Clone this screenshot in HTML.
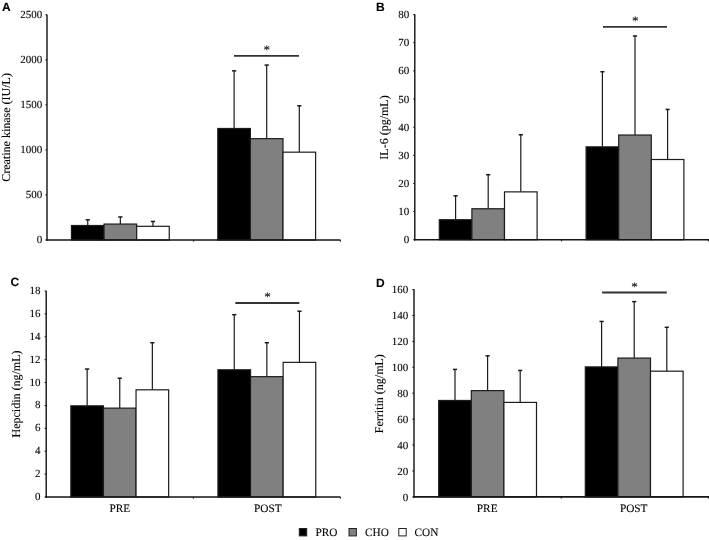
<!DOCTYPE html>
<html><head><meta charset="utf-8"><title>Figure</title>
<style>html,body{margin:0;padding:0;background:#fff;}svg{display:block;}text{text-rendering:geometricPrecision;stroke:#000;stroke-width:0.1px;}</style></head>
<body>
<svg width="709" height="540" viewBox="0 0 709 540">
<rect width="709" height="540" fill="#fff"/>
<text x="1.9" y="10.8" font-family='"Liberation Sans", "DejaVu Sans", sans-serif' font-weight="bold" font-size="12">A</text>
<text transform="translate(10.2,127.4) rotate(-90)" text-anchor="middle" font-family='"Liberation Serif", "DejaVu Serif", serif' font-size="12">Creatine kinase (IU/L)</text>
<line x1="45.4" y1="240.00" x2="47.0" y2="240.00" stroke="#111" stroke-width="1"/>
<text x="42.2" y="243.30" text-anchor="end" font-family='"Liberation Serif", "DejaVu Serif", serif' font-size="11">0</text>
<line x1="45.4" y1="194.96" x2="47.0" y2="194.96" stroke="#111" stroke-width="1"/>
<text x="42.2" y="198.26" text-anchor="end" font-family='"Liberation Serif", "DejaVu Serif", serif' font-size="11">500</text>
<line x1="45.4" y1="149.92" x2="47.0" y2="149.92" stroke="#111" stroke-width="1"/>
<text x="42.2" y="153.22" text-anchor="end" font-family='"Liberation Serif", "DejaVu Serif", serif' font-size="11">1000</text>
<line x1="45.4" y1="104.88" x2="47.0" y2="104.88" stroke="#111" stroke-width="1"/>
<text x="42.2" y="108.18" text-anchor="end" font-family='"Liberation Serif", "DejaVu Serif", serif' font-size="11">1500</text>
<line x1="45.4" y1="59.84" x2="47.0" y2="59.84" stroke="#111" stroke-width="1"/>
<text x="42.2" y="63.14" text-anchor="end" font-family='"Liberation Serif", "DejaVu Serif", serif' font-size="11">2000</text>
<line x1="45.4" y1="14.80" x2="47.0" y2="14.80" stroke="#111" stroke-width="1"/>
<text x="42.2" y="18.10" text-anchor="end" font-family='"Liberation Serif", "DejaVu Serif", serif' font-size="11">2500</text>
<line x1="87.75" y1="219.82" x2="87.75" y2="225.50" stroke="#1a1a1a" stroke-width="1.2"/>
<line x1="85.65" y1="219.82" x2="89.85" y2="219.82" stroke="#1a1a1a" stroke-width="1.5"/>
<rect x="71.45" y="225.50" width="32.6" height="14.50" fill="#000000" stroke="#1c1c1c" stroke-width="1.2"/>
<line x1="120.35" y1="216.94" x2="120.35" y2="224.06" stroke="#1a1a1a" stroke-width="1.2"/>
<line x1="118.25" y1="216.94" x2="122.45" y2="216.94" stroke="#1a1a1a" stroke-width="1.5"/>
<rect x="104.05" y="224.06" width="32.6" height="15.94" fill="#808080" stroke="#1c1c1c" stroke-width="1.2"/>
<line x1="152.95" y1="221.44" x2="152.95" y2="226.31" stroke="#1a1a1a" stroke-width="1.2"/>
<line x1="150.85" y1="221.44" x2="155.05" y2="221.44" stroke="#1a1a1a" stroke-width="1.5"/>
<rect x="136.65" y="226.31" width="32.6" height="13.69" fill="#ffffff" stroke="#1c1c1c" stroke-width="1.2"/>
<line x1="234.10" y1="70.83" x2="234.10" y2="128.48" stroke="#1a1a1a" stroke-width="1.2"/>
<line x1="232.00" y1="70.83" x2="236.20" y2="70.83" stroke="#1a1a1a" stroke-width="1.5"/>
<rect x="217.80" y="128.48" width="32.6" height="111.52" fill="#000000" stroke="#1c1c1c" stroke-width="1.2"/>
<line x1="266.70" y1="65.06" x2="266.70" y2="138.66" stroke="#1a1a1a" stroke-width="1.2"/>
<line x1="264.60" y1="65.06" x2="268.80" y2="65.06" stroke="#1a1a1a" stroke-width="1.5"/>
<rect x="250.40" y="138.66" width="32.6" height="101.34" fill="#808080" stroke="#1c1c1c" stroke-width="1.2"/>
<line x1="299.30" y1="105.78" x2="299.30" y2="152.17" stroke="#1a1a1a" stroke-width="1.2"/>
<line x1="297.20" y1="105.78" x2="301.40" y2="105.78" stroke="#1a1a1a" stroke-width="1.5"/>
<rect x="283.00" y="152.17" width="32.6" height="87.83" fill="#ffffff" stroke="#1c1c1c" stroke-width="1.2"/>
<line x1="47.0" y1="14.5" x2="47.0" y2="240.85" stroke="#111" stroke-width="1.4"/>
<line x1="46.2" y1="240.0" x2="340.4" y2="240.0" stroke="#151515" stroke-width="1.6"/>
<line x1="193.70" y1="240.0" x2="193.70" y2="241.7" stroke="#111" stroke-width="1"/>
<line x1="340.40" y1="240.0" x2="340.40" y2="241.7" stroke="#111" stroke-width="1"/>
<line x1="234" y1="55.8" x2="299" y2="55.8" stroke="#333" stroke-width="1.8"/>
<text x="266.7" y="54.1" text-anchor="middle" font-family='"Liberation Serif", "DejaVu Serif", serif' font-size="13" fill="#222" stroke="#222" stroke-width="0.3">*</text>
<text x="376.1" y="10.8" font-family='"Liberation Sans", "DejaVu Sans", sans-serif' font-weight="bold" font-size="12">B</text>
<text transform="translate(388.4,127.5) rotate(-90)" text-anchor="middle" font-family='"Liberation Serif", "DejaVu Serif", serif' font-size="12">IL-6 (pg/mL)</text>
<line x1="413.2" y1="239.70" x2="414.8" y2="239.70" stroke="#111" stroke-width="1"/>
<text x="409.2" y="243.30" text-anchor="end" font-family='"Liberation Serif", "DejaVu Serif", serif' font-size="11">0</text>
<line x1="413.2" y1="211.56" x2="414.8" y2="211.56" stroke="#111" stroke-width="1"/>
<text x="409.2" y="215.16" text-anchor="end" font-family='"Liberation Serif", "DejaVu Serif", serif' font-size="11">10</text>
<line x1="413.2" y1="183.43" x2="414.8" y2="183.43" stroke="#111" stroke-width="1"/>
<text x="409.2" y="187.03" text-anchor="end" font-family='"Liberation Serif", "DejaVu Serif", serif' font-size="11">20</text>
<line x1="413.2" y1="155.29" x2="414.8" y2="155.29" stroke="#111" stroke-width="1"/>
<text x="409.2" y="158.89" text-anchor="end" font-family='"Liberation Serif", "DejaVu Serif", serif' font-size="11">30</text>
<line x1="413.2" y1="127.15" x2="414.8" y2="127.15" stroke="#111" stroke-width="1"/>
<text x="409.2" y="130.75" text-anchor="end" font-family='"Liberation Serif", "DejaVu Serif", serif' font-size="11">40</text>
<line x1="413.2" y1="99.01" x2="414.8" y2="99.01" stroke="#111" stroke-width="1"/>
<text x="409.2" y="102.61" text-anchor="end" font-family='"Liberation Serif", "DejaVu Serif", serif' font-size="11">50</text>
<line x1="413.2" y1="70.88" x2="414.8" y2="70.88" stroke="#111" stroke-width="1"/>
<text x="409.2" y="74.47" text-anchor="end" font-family='"Liberation Serif", "DejaVu Serif", serif' font-size="11">60</text>
<line x1="413.2" y1="42.74" x2="414.8" y2="42.74" stroke="#111" stroke-width="1"/>
<text x="409.2" y="46.34" text-anchor="end" font-family='"Liberation Serif", "DejaVu Serif", serif' font-size="11">70</text>
<line x1="413.2" y1="14.60" x2="414.8" y2="14.60" stroke="#111" stroke-width="1"/>
<text x="409.2" y="18.20" text-anchor="end" font-family='"Liberation Serif", "DejaVu Serif", serif' font-size="11">80</text>
<line x1="455.60" y1="195.81" x2="455.60" y2="219.72" stroke="#1a1a1a" stroke-width="1.2"/>
<line x1="453.50" y1="195.81" x2="457.70" y2="195.81" stroke="#1a1a1a" stroke-width="1.5"/>
<rect x="439.30" y="219.72" width="32.6" height="19.98" fill="#000000" stroke="#1c1c1c" stroke-width="1.2"/>
<line x1="488.20" y1="174.70" x2="488.20" y2="208.75" stroke="#1a1a1a" stroke-width="1.2"/>
<line x1="486.10" y1="174.70" x2="490.30" y2="174.70" stroke="#1a1a1a" stroke-width="1.5"/>
<rect x="471.90" y="208.75" width="32.6" height="30.95" fill="#808080" stroke="#1c1c1c" stroke-width="1.2"/>
<line x1="520.80" y1="134.75" x2="520.80" y2="191.87" stroke="#1a1a1a" stroke-width="1.2"/>
<line x1="518.70" y1="134.75" x2="522.90" y2="134.75" stroke="#1a1a1a" stroke-width="1.5"/>
<rect x="504.50" y="191.87" width="32.6" height="47.83" fill="#ffffff" stroke="#1c1c1c" stroke-width="1.2"/>
<line x1="602.40" y1="71.72" x2="602.40" y2="146.85" stroke="#1a1a1a" stroke-width="1.2"/>
<line x1="600.30" y1="71.72" x2="604.50" y2="71.72" stroke="#1a1a1a" stroke-width="1.5"/>
<rect x="586.10" y="146.85" width="32.6" height="92.85" fill="#000000" stroke="#1c1c1c" stroke-width="1.2"/>
<line x1="635.00" y1="35.98" x2="635.00" y2="135.03" stroke="#1a1a1a" stroke-width="1.2"/>
<line x1="632.90" y1="35.98" x2="637.10" y2="35.98" stroke="#1a1a1a" stroke-width="1.5"/>
<rect x="618.70" y="135.03" width="32.6" height="104.67" fill="#808080" stroke="#1c1c1c" stroke-width="1.2"/>
<line x1="667.60" y1="109.42" x2="667.60" y2="159.51" stroke="#1a1a1a" stroke-width="1.2"/>
<line x1="665.50" y1="109.42" x2="669.70" y2="109.42" stroke="#1a1a1a" stroke-width="1.5"/>
<rect x="651.30" y="159.51" width="32.6" height="80.19" fill="#ffffff" stroke="#1c1c1c" stroke-width="1.2"/>
<line x1="414.8" y1="14.299999999999999" x2="414.8" y2="240.54999999999998" stroke="#111" stroke-width="1.4"/>
<line x1="414.0" y1="239.7" x2="709" y2="239.7" stroke="#151515" stroke-width="1.6"/>
<line x1="561.60" y1="239.7" x2="561.60" y2="241.39999999999998" stroke="#111" stroke-width="1"/>
<line x1="708.40" y1="239.7" x2="708.40" y2="241.39999999999998" stroke="#111" stroke-width="1"/>
<line x1="603" y1="26.9" x2="667" y2="26.9" stroke="#333" stroke-width="1.8"/>
<text x="635.2" y="25.1" text-anchor="middle" font-family='"Liberation Serif", "DejaVu Serif", serif' font-size="13" fill="#222" stroke="#222" stroke-width="0.3">*</text>
<text x="10.6" y="286.3" font-family='"Liberation Sans", "DejaVu Sans", sans-serif' font-weight="bold" font-size="12">C</text>
<text transform="translate(19.5,394.0) rotate(-90)" text-anchor="middle" font-family='"Liberation Serif", "DejaVu Serif", serif' font-size="12">Hepcidin (ng/mL)</text>
<line x1="44.6" y1="497.00" x2="46.2" y2="497.00" stroke="#111" stroke-width="1"/>
<text x="40.5" y="500.00" text-anchor="end" font-family='"Liberation Serif", "DejaVu Serif", serif' font-size="11">0</text>
<line x1="44.6" y1="474.11" x2="46.2" y2="474.11" stroke="#111" stroke-width="1"/>
<text x="40.5" y="477.11" text-anchor="end" font-family='"Liberation Serif", "DejaVu Serif", serif' font-size="11">2</text>
<line x1="44.6" y1="451.22" x2="46.2" y2="451.22" stroke="#111" stroke-width="1"/>
<text x="40.5" y="454.22" text-anchor="end" font-family='"Liberation Serif", "DejaVu Serif", serif' font-size="11">4</text>
<line x1="44.6" y1="428.33" x2="46.2" y2="428.33" stroke="#111" stroke-width="1"/>
<text x="40.5" y="431.33" text-anchor="end" font-family='"Liberation Serif", "DejaVu Serif", serif' font-size="11">6</text>
<line x1="44.6" y1="405.44" x2="46.2" y2="405.44" stroke="#111" stroke-width="1"/>
<text x="40.5" y="408.44" text-anchor="end" font-family='"Liberation Serif", "DejaVu Serif", serif' font-size="11">8</text>
<line x1="44.6" y1="382.56" x2="46.2" y2="382.56" stroke="#111" stroke-width="1"/>
<text x="40.5" y="385.56" text-anchor="end" font-family='"Liberation Serif", "DejaVu Serif", serif' font-size="11">10</text>
<line x1="44.6" y1="359.67" x2="46.2" y2="359.67" stroke="#111" stroke-width="1"/>
<text x="40.5" y="362.67" text-anchor="end" font-family='"Liberation Serif", "DejaVu Serif", serif' font-size="11">12</text>
<line x1="44.6" y1="336.78" x2="46.2" y2="336.78" stroke="#111" stroke-width="1"/>
<text x="40.5" y="339.78" text-anchor="end" font-family='"Liberation Serif", "DejaVu Serif", serif' font-size="11">14</text>
<line x1="44.6" y1="313.89" x2="46.2" y2="313.89" stroke="#111" stroke-width="1"/>
<text x="40.5" y="316.89" text-anchor="end" font-family='"Liberation Serif", "DejaVu Serif", serif' font-size="11">16</text>
<line x1="44.6" y1="291.00" x2="46.2" y2="291.00" stroke="#111" stroke-width="1"/>
<text x="40.5" y="294.00" text-anchor="end" font-family='"Liberation Serif", "DejaVu Serif", serif' font-size="11">18</text>
<line x1="87.15" y1="369.02" x2="87.15" y2="405.84" stroke="#1a1a1a" stroke-width="1.2"/>
<line x1="85.05" y1="369.02" x2="89.25" y2="369.02" stroke="#1a1a1a" stroke-width="1.5"/>
<rect x="70.85" y="405.84" width="32.6" height="91.16" fill="#000000" stroke="#1c1c1c" stroke-width="1.2"/>
<line x1="119.75" y1="378.18" x2="119.75" y2="408.13" stroke="#1a1a1a" stroke-width="1.2"/>
<line x1="117.65" y1="378.18" x2="121.85" y2="378.18" stroke="#1a1a1a" stroke-width="1.5"/>
<rect x="103.45" y="408.13" width="32.6" height="88.87" fill="#808080" stroke="#1c1c1c" stroke-width="1.2"/>
<line x1="152.35" y1="342.70" x2="152.35" y2="389.82" stroke="#1a1a1a" stroke-width="1.2"/>
<line x1="150.25" y1="342.70" x2="154.45" y2="342.70" stroke="#1a1a1a" stroke-width="1.5"/>
<rect x="136.05" y="389.82" width="32.6" height="107.18" fill="#ffffff" stroke="#1c1c1c" stroke-width="1.2"/>
<text x="119.85" y="512.2" text-anchor="middle" font-family='"Liberation Serif", "DejaVu Serif", serif' font-size="11.3">PRE</text>
<line x1="234.25" y1="314.66" x2="234.25" y2="369.79" stroke="#1a1a1a" stroke-width="1.2"/>
<line x1="232.15" y1="314.66" x2="236.35" y2="314.66" stroke="#1a1a1a" stroke-width="1.5"/>
<rect x="217.95" y="369.79" width="32.6" height="127.21" fill="#000000" stroke="#1c1c1c" stroke-width="1.2"/>
<line x1="266.85" y1="342.70" x2="266.85" y2="376.66" stroke="#1a1a1a" stroke-width="1.2"/>
<line x1="264.75" y1="342.70" x2="268.95" y2="342.70" stroke="#1a1a1a" stroke-width="1.5"/>
<rect x="250.55" y="376.66" width="32.6" height="120.34" fill="#808080" stroke="#1c1c1c" stroke-width="1.2"/>
<line x1="299.45" y1="311.23" x2="299.45" y2="362.36" stroke="#1a1a1a" stroke-width="1.2"/>
<line x1="297.35" y1="311.23" x2="301.55" y2="311.23" stroke="#1a1a1a" stroke-width="1.5"/>
<rect x="283.15" y="362.36" width="32.6" height="134.64" fill="#ffffff" stroke="#1c1c1c" stroke-width="1.2"/>
<text x="267.75" y="512.2" text-anchor="middle" font-family='"Liberation Serif", "DejaVu Serif", serif' font-size="11.3">POST</text>
<line x1="46.2" y1="290.7" x2="46.2" y2="497.85" stroke="#111" stroke-width="1.4"/>
<line x1="45.400000000000006" y1="497.0" x2="340.4" y2="497.0" stroke="#151515" stroke-width="1.6"/>
<line x1="193.30" y1="497.0" x2="193.30" y2="498.7" stroke="#111" stroke-width="1"/>
<line x1="340.40" y1="497.0" x2="340.40" y2="498.7" stroke="#111" stroke-width="1"/>
<line x1="235.3" y1="303" x2="299.3" y2="303" stroke="#333" stroke-width="1.8"/>
<text x="267.6" y="301.1" text-anchor="middle" font-family='"Liberation Serif", "DejaVu Serif", serif' font-size="13" fill="#222" stroke="#222" stroke-width="0.3">*</text>
<text x="376.1" y="286.6" font-family='"Liberation Sans", "DejaVu Sans", sans-serif' font-weight="bold" font-size="12">D</text>
<text transform="translate(383.0,393.7) rotate(-90)" text-anchor="middle" font-family='"Liberation Serif", "DejaVu Serif", serif' font-size="12">Ferritin (ng/mL)</text>
<line x1="412.4" y1="496.90" x2="414.0" y2="496.90" stroke="#111" stroke-width="1"/>
<text x="408.2" y="500.80" text-anchor="end" font-family='"Liberation Serif", "DejaVu Serif", serif' font-size="11">0</text>
<line x1="412.4" y1="470.97" x2="414.0" y2="470.97" stroke="#111" stroke-width="1"/>
<text x="408.2" y="474.87" text-anchor="end" font-family='"Liberation Serif", "DejaVu Serif", serif' font-size="11">20</text>
<line x1="412.4" y1="445.05" x2="414.0" y2="445.05" stroke="#111" stroke-width="1"/>
<text x="408.2" y="448.95" text-anchor="end" font-family='"Liberation Serif", "DejaVu Serif", serif' font-size="11">40</text>
<line x1="412.4" y1="419.12" x2="414.0" y2="419.12" stroke="#111" stroke-width="1"/>
<text x="408.2" y="423.02" text-anchor="end" font-family='"Liberation Serif", "DejaVu Serif", serif' font-size="11">60</text>
<line x1="412.4" y1="393.20" x2="414.0" y2="393.20" stroke="#111" stroke-width="1"/>
<text x="408.2" y="397.10" text-anchor="end" font-family='"Liberation Serif", "DejaVu Serif", serif' font-size="11">80</text>
<line x1="412.4" y1="367.27" x2="414.0" y2="367.27" stroke="#111" stroke-width="1"/>
<text x="408.2" y="371.17" text-anchor="end" font-family='"Liberation Serif", "DejaVu Serif", serif' font-size="11">100</text>
<line x1="412.4" y1="341.35" x2="414.0" y2="341.35" stroke="#111" stroke-width="1"/>
<text x="408.2" y="345.25" text-anchor="end" font-family='"Liberation Serif", "DejaVu Serif", serif' font-size="11">120</text>
<line x1="412.4" y1="315.42" x2="414.0" y2="315.42" stroke="#111" stroke-width="1"/>
<text x="408.2" y="319.32" text-anchor="end" font-family='"Liberation Serif", "DejaVu Serif", serif' font-size="11">140</text>
<line x1="412.4" y1="289.50" x2="414.0" y2="289.50" stroke="#111" stroke-width="1"/>
<text x="408.2" y="293.40" text-anchor="end" font-family='"Liberation Serif", "DejaVu Serif", serif' font-size="11">160</text>
<line x1="455.00" y1="369.42" x2="455.00" y2="400.47" stroke="#1a1a1a" stroke-width="1.2"/>
<line x1="452.90" y1="369.42" x2="457.10" y2="369.42" stroke="#1a1a1a" stroke-width="1.5"/>
<rect x="438.70" y="400.47" width="32.6" height="96.43" fill="#000000" stroke="#1c1c1c" stroke-width="1.2"/>
<line x1="487.60" y1="355.81" x2="487.60" y2="390.62" stroke="#1a1a1a" stroke-width="1.2"/>
<line x1="485.50" y1="355.81" x2="489.70" y2="355.81" stroke="#1a1a1a" stroke-width="1.5"/>
<rect x="471.30" y="390.62" width="32.6" height="106.28" fill="#808080" stroke="#1c1c1c" stroke-width="1.2"/>
<line x1="520.20" y1="370.46" x2="520.20" y2="402.41" stroke="#1a1a1a" stroke-width="1.2"/>
<line x1="518.10" y1="370.46" x2="522.30" y2="370.46" stroke="#1a1a1a" stroke-width="1.5"/>
<rect x="503.90" y="402.41" width="32.6" height="94.49" fill="#ffffff" stroke="#1c1c1c" stroke-width="1.2"/>
<text x="487.20" y="512.2" text-anchor="middle" font-family='"Liberation Serif", "DejaVu Serif", serif' font-size="11.3">PRE</text>
<line x1="601.60" y1="321.46" x2="601.60" y2="366.90" stroke="#1a1a1a" stroke-width="1.2"/>
<line x1="599.50" y1="321.46" x2="603.70" y2="321.46" stroke="#1a1a1a" stroke-width="1.5"/>
<rect x="585.30" y="366.90" width="32.6" height="130.00" fill="#000000" stroke="#1c1c1c" stroke-width="1.2"/>
<line x1="634.20" y1="301.63" x2="634.20" y2="358.08" stroke="#1a1a1a" stroke-width="1.2"/>
<line x1="632.10" y1="301.63" x2="636.30" y2="301.63" stroke="#1a1a1a" stroke-width="1.5"/>
<rect x="617.90" y="358.08" width="32.6" height="138.82" fill="#808080" stroke="#1c1c1c" stroke-width="1.2"/>
<line x1="666.80" y1="327.29" x2="666.80" y2="371.17" stroke="#1a1a1a" stroke-width="1.2"/>
<line x1="664.70" y1="327.29" x2="668.90" y2="327.29" stroke="#1a1a1a" stroke-width="1.5"/>
<rect x="650.50" y="371.17" width="32.6" height="125.73" fill="#ffffff" stroke="#1c1c1c" stroke-width="1.2"/>
<text x="633.70" y="512.2" text-anchor="middle" font-family='"Liberation Serif", "DejaVu Serif", serif' font-size="11.3">POST</text>
<line x1="414.0" y1="289.2" x2="414.0" y2="497.75" stroke="#111" stroke-width="1.4"/>
<line x1="413.2" y1="496.9" x2="709" y2="496.9" stroke="#151515" stroke-width="1.6"/>
<line x1="561.20" y1="496.9" x2="561.20" y2="498.59999999999997" stroke="#111" stroke-width="1"/>
<line x1="708.40" y1="496.9" x2="708.40" y2="498.59999999999997" stroke="#111" stroke-width="1"/>
<line x1="602.1" y1="292.5" x2="666.8" y2="292.5" stroke="#333" stroke-width="1.8"/>
<text x="634.6" y="290.8" text-anchor="middle" font-family='"Liberation Serif", "DejaVu Serif", serif' font-size="13" fill="#222" stroke="#222" stroke-width="0.3">*</text>
<rect x="299.3" y="528.5" width="7.4" height="7.4" fill="#000" stroke="#222" stroke-width="1"/>
<text x="315.5" y="536.1" font-family='"Liberation Serif", "DejaVu Serif", serif' font-size="11.3">PRO</text>
<rect x="349.0" y="528.5" width="7.4" height="7.4" fill="#808080" stroke="#222" stroke-width="1"/>
<text x="365" y="536.1" font-family='"Liberation Serif", "DejaVu Serif", serif' font-size="11.3">CHO</text>
<rect x="398.8" y="528.5" width="7.4" height="7.4" fill="#fff" stroke="#222" stroke-width="1"/>
<text x="414.5" y="536.1" font-family='"Liberation Serif", "DejaVu Serif", serif' font-size="11.3">CON</text>
</svg>
</body></html>
